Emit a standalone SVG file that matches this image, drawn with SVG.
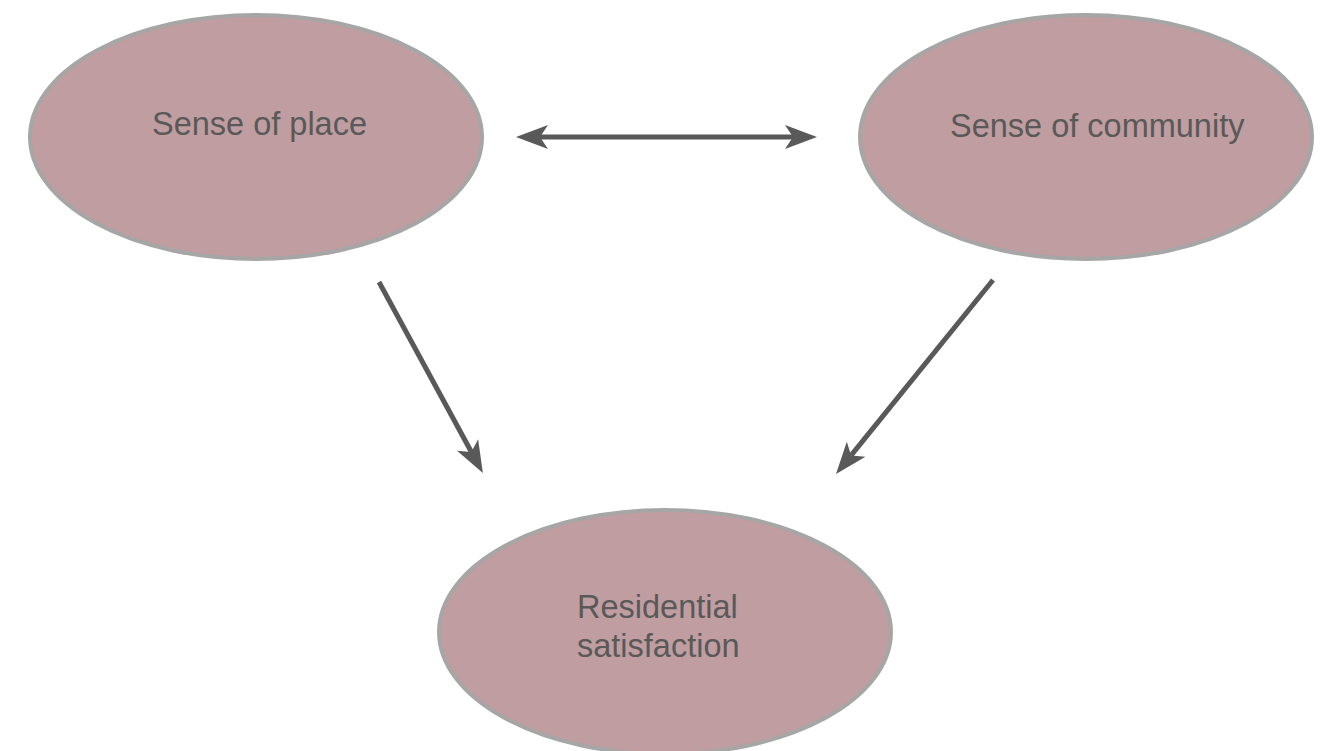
<svg xmlns="http://www.w3.org/2000/svg" width="1326" height="751" viewBox="0 0 1326 751">
  <style>
    .node { fill: #c09da0; stroke: #a6a6a6; stroke-width: 4; }
    .label { font-family: "Liberation Sans", Arial, sans-serif; font-size: 32.5px; fill: #595959; }
    .conn { stroke: #595959; stroke-width: 5; fill: none; }
  </style>
  <defs>
    <marker id="head" markerUnits="userSpaceOnUse" markerWidth="34" markerHeight="26" viewBox="0 -13 34 26" refX="8" refY="0" orient="auto-start-reverse">
      <path d="M32,0 L0,-12 L8,0 L0,12 Z" fill="#595959"/>
    </marker>
  </defs>
  <rect width="1326" height="751" fill="#ffffff"/>
  <g id="node-place">
    <ellipse class="node" cx="256" cy="137" rx="226" ry="122"/>
    <text class="label" x="152" y="135">Sense of place</text>
  </g>
  <g id="node-community">
    <ellipse class="node" cx="1086" cy="137" rx="226" ry="122"/>
    <text class="label" x="950" y="137">Sense of community</text>
  </g>
  <g id="node-residential">
    <ellipse class="node" cx="665" cy="632" rx="226" ry="122"/>
    <text class="label" x="577" y="618">Residential</text>
    <text class="label" x="577" y="657">satisfaction</text>
  </g>
  <g id="connectors">
    <line class="conn" x1="540" y1="137" x2="793" y2="137" marker-start="url(#head)" marker-end="url(#head)"/>
    <line class="conn" x1="379" y1="282" x2="471.4" y2="452" marker-end="url(#head)"/>
    <line class="conn" x1="993" y1="280" x2="851.1" y2="455.4" marker-end="url(#head)"/>
  </g>
</svg>
